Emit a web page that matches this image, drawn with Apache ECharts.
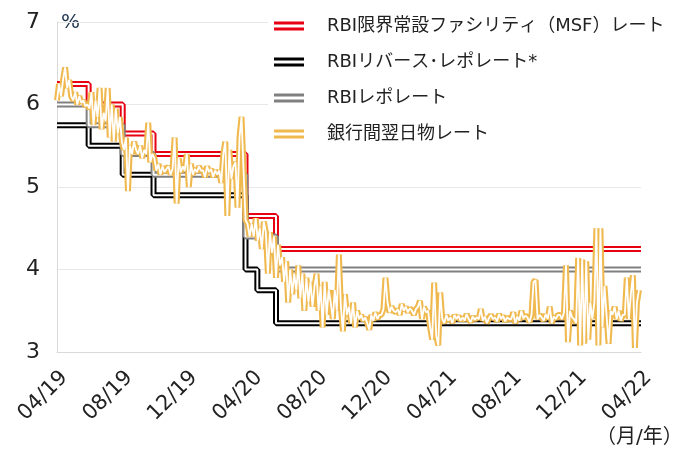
<!DOCTYPE html>
<html>
<head>
<meta charset="utf-8">
<script src="https://cdn.jsdelivr.net/npm/echarts@6/dist/echarts.min.js"></script>
<style>
html,body{margin:0;padding:0;background:#fff;}
#main{width:692px;height:454px;}
</style>
</head>
<body>
<div id="main"></div>
<script>
// x軸: 2019年4月からの月数
var tickLabels = ['04/19','08/19','12/19','04/20','08/20','12/20','04/21','08/21','12/21','04/22'];

// 政策金利の変更時点（月数、図から読み取り）
var stepMonths  = [0, 1.95, 4.05, 5.95, 11.62, 12.35, 13.5, 36];
var msfRate     = [6.25, 6.00, 5.65, 5.40, 4.65, 4.65, 4.25, 4.25];
var reverseRepo = [5.75, 5.50, 5.15, 4.90, 4.00, 3.75, 3.35, 3.35];
var repoRate    = [6.00, 5.75, 5.40, 5.15, 4.40, 4.40, 4.00, 4.00];

// 銀行間翌日物レート（1か月8点）
var callPerMonth = 8;
var callRate = [
  6.05,6.25,6.10,6.30,6.45,6.20,6.30,6.10,  6.05,6.15,6.00,6.10,6.02,6.05,5.98,6.00,
  5.95,6.15,5.75,6.05,5.85,6.20,5.70,5.90,  5.80,6.20,5.60,6.00,5.55,5.95,5.65,5.85,
  5.55,5.45,5.60,4.95,5.50,5.40,5.55,5.45,  5.40,5.50,5.35,5.45,5.40,5.78,5.30,5.40,
  5.35,5.20,5.28,5.15,5.25,5.18,5.22,5.25,  5.15,5.22,5.60,4.80,5.35,5.18,5.25,5.20,
  5.40,5.00,5.28,5.15,5.22,5.18,5.25,5.20,  5.20,5.12,5.25,5.18,5.22,5.12,5.20,5.15,
  5.20,5.05,5.40,5.55,4.65,5.45,5.10,5.25,  5.30,4.75,5.60,5.85,5.20,4.60,4.55,4.40,
  4.55,4.40,4.62,4.35,4.50,4.25,4.58,4.45,  3.95,4.45,4.20,4.40,3.90,4.30,4.05,4.15,
  3.85,4.10,3.60,4.00,3.70,3.95,3.75,4.05,  3.65,3.95,3.50,3.90,3.60,3.85,3.55,3.80,
  3.95,3.50,3.80,3.30,3.85,3.45,3.75,3.60,  3.40,3.75,3.50,4.18,3.55,3.25,3.70,3.45,
  3.55,3.35,3.60,3.30,3.50,3.40,3.45,3.38,  3.42,3.35,3.27,3.45,3.38,3.48,3.40,3.45,
  3.45,3.52,3.90,3.60,3.48,3.55,3.50,3.48,  3.52,3.45,3.58,3.50,3.55,3.48,3.53,3.50,
  3.45,3.52,3.55,3.62,3.40,3.55,3.48,3.50,  3.30,3.15,3.84,3.20,3.08,3.72,3.40,3.35,
  3.45,3.38,3.42,3.35,3.45,3.40,3.44,3.38,  3.42,3.38,3.46,3.40,3.36,3.43,3.39,3.42,
  3.40,3.52,3.38,3.43,3.35,3.41,3.45,3.40,  3.42,3.37,3.46,3.40,3.44,3.37,3.42,3.40,
  3.40,3.48,3.35,3.43,3.38,3.50,3.41,3.44,  3.42,3.36,3.45,3.85,3.87,3.40,3.45,3.42,
  3.38,3.46,3.40,3.55,3.35,3.43,3.40,3.45,  3.45,3.40,3.48,4.05,3.12,3.50,3.42,3.40,
  3.35,4.14,3.08,4.12,3.10,4.10,3.15,3.60,  3.40,3.60,4.50,3.08,4.50,3.30,3.80,3.45,
  3.10,3.50,3.45,3.55,3.40,3.50,3.38,3.45,  3.45,3.90,3.40,3.70,3.93,3.05,3.60,3.75
];

var names = ['RBI限界常設ファシリティ（MSF）レート','RBIリバース･レポレート*','RBIレポレート','銀行間翌日物レート'];
var colors = ['#e60012','#000000','#808080','#f0b94f'];

function pairs(xs, ys){
  var out = [];
  for (var i = 0; i < ys.length; i++) out.push([xs[i], ys[i]]);
  return out;
}
var callData = [];
for (var i = 0; i < callRate.length; i++) callData.push([i / callPerMonth, callRate[i]]);

// 二重線: 太い色線の上に細い白線
function doubleLine(name, color, data, step, w, inner){
  return [
    {name:name, type:'line', data:data, step:step, symbol:'none', color:color,
     lineStyle:{color:color, width:w}, animation:false},
    {name:name + '_in', type:'line', data:data, step:step, symbol:'none',
     lineStyle:{color:'#ffffff', width:inner}, animation:false, silent:true}
  ];
}

window.onload = function(){
  var myChart = echarts.init(document.getElementById('main'));
  var font = "Verdana, 'DejaVu Sans', 'Noto Sans CJK JP', sans-serif";
  var series = [].concat(
    doubleLine(names[0], colors[0], pairs(stepMonths, msfRate), 'end', 6, 2),
    doubleLine(names[1], colors[1], pairs(stepMonths, reverseRepo), 'end', 6, 2),
    doubleLine(names[2], colors[2], pairs(stepMonths, repoRate), 'end', 6, 2),
    doubleLine(names[3], colors[3], callData, false, 6, 1.8)
  );
  var option = {
    backgroundColor:'#fff',
    grid:{left:57, right:51, top:22, bottom:102},
    legend:{
      data:names,
      orient:'vertical',
      left:268, top:12,
      backgroundColor:'#fff',
      padding:[4,10,4,6],
      itemWidth:30, itemHeight:9,
      itemGap:16,
      icon:'path://M0,0L30,0L30,3L0,3Z M0,6L30,6L30,9L0,9Z',
      textStyle:{fontSize:18, color:'#222', fontFamily:font, lineHeight:20, padding:[0,0,0,18]}
    },
    xAxis:{
      type:'value', min:0, max:36, interval:4,
      axisLine:{show:true, lineStyle:{color:'#d9d9d9', width:1}},
      axisTick:{show:false},
      splitLine:{show:false},
      axisLabel:{
        rotate:45, margin:15, fontSize:21, color:'#222', fontFamily:font,
        verticalAlign:'top',
        formatter:function(v){ return tickLabels[Math.round(v / 4)]; }
      }
    },
    yAxis:{
      type:'value', min:3, max:7, interval:1,
      axisLine:{show:true, lineStyle:{color:'#d9d9d9', width:1}},
      axisTick:{show:false},
      splitLine:{lineStyle:{color:'#e8e8e8', width:1}},
      axisLabel:{fontSize:22, color:'#222', fontFamily:font, margin:17}
    },
    graphic:[
      {type:'text', left:61, top:13, style:{text:'%', fontSize:20, fill:'#1f3450', fontFamily:font}},
      {type:'text', left:596, top:428, style:{text:'（月/年）', fontSize:20, fill:'#222', fontFamily:font}}
    ],
    series:series
  };
  myChart.setOption(option);
};
</script>
</body>
</html>
